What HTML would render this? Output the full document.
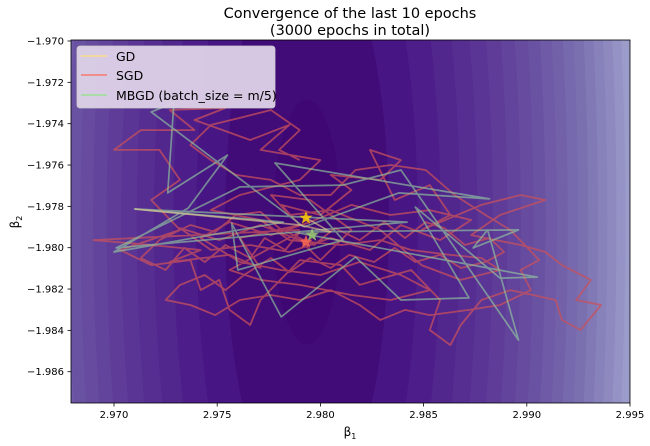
<!DOCTYPE html>
<html><head><meta charset="utf-8"><style>
html,body{margin:0;background:#fff;width:650px;height:446px;overflow:hidden;font-family:"Liberation Sans","DejaVu Sans",sans-serif}
svg{display:block}
svg text{font-family:"DejaVu Sans","Liberation Sans",sans-serif}
</style></head><body>
<svg id="chart" width="650" height="446" xmlns="http://www.w3.org/2000/svg">
<defs><clipPath id="pc"><rect x="71" y="40" width="559" height="363"/></clipPath></defs>
<text x="350" y="18" font-size="14.5" text-anchor="middle" fill="#000">Convergence of the last 10 epochs</text>
<text x="350" y="35" font-size="14.5" text-anchor="middle" fill="#000">(3000 epochs in total)</text>
<g id="bg" clip-path="url(#pc)"></g>
<g id="series" clip-path="url(#pc)"></g>
<rect x="71" y="40" width="559" height="363" fill="none" stroke="#000" stroke-width="0.8"/>
<g id="axes"></g>
<text x="350" y="436" font-size="12" text-anchor="middle">β<tspan font-size="8" dy="3">1</tspan></text>
<text transform="translate(19,222) rotate(-90)" font-size="12" text-anchor="middle">β<tspan font-size="8" dy="3">2</tspan></text>
<g>
<rect x="77" y="46" width="198" height="62" rx="3" fill="#ded2e8" fill-opacity="0.95" stroke="#ccc" stroke-width="0.8"/>
<line x1="81" y1="56" x2="107" y2="56" stroke="#efd9a0" stroke-width="2"/>
<text x="116" y="61" font-size="12.5">GD</text>
<line x1="81" y1="75" x2="107" y2="75" stroke="#f08d8d" stroke-width="2"/>
<text x="116" y="80" font-size="12.5">SGD</text>
<line x1="81" y1="95" x2="107" y2="95" stroke="#a9dca9" stroke-width="2"/>
<text x="116" y="100" font-size="12.5">MBGD (batch_size = m/5)</text>
</g>
</svg>
<script>
const xTicks=[2.970,2.975,2.980,2.985,2.990,2.995];
const yTicks=[-1.970,-1.972,-1.974,-1.976,-1.978,-1.980,-1.982,-1.984,-1.986];
const sgdB1=[2.9790,2.9690,2.9718,2.9742,2.9727,2.9756,2.9771,2.9761,2.9790,2.9781,2.9800,2.9815,2.9805,2.9829,2.9839,2.9824,2.9836,2.9853,2.9863,2.9849,2.9878,2.9897,2.9909,2.9887,2.9873,2.9897,2.9909,2.9917,2.9931,2.9924,2.9936,2.9926,2.9917,2.9914,2.9892,2.9878,2.9868,2.9863,2.9853,2.9858,2.9844,2.9819,2.9810,2.9790,2.9771,2.9766,2.9756,2.9751,2.9742,2.9737,2.9718,2.9703,2.9732,2.9718,2.9732,2.9722,2.9700,2.9713,2.9739,2.9727,2.9754,2.9739,2.9766,2.9785,2.9771,2.9800,2.9790,2.9761,2.9747,2.9771,2.9785,2.9810,2.9829,2.9844,2.9863,2.9878,2.9887,2.9868,2.9849,2.9829,2.9805,2.9785,2.9776,2.9795,2.9815,2.9800,2.9790,2.9771,2.9751,2.9732,2.9747,2.9766,2.9785,2.9805,2.9824,2.9839,2.9858,2.9873,2.9853,2.9834,2.9815,2.9795,2.9776,2.9756,2.9742,2.9761,2.9781,2.9800,2.9819,2.9839,2.9853,2.9834,2.9815,2.9790,2.9771,2.9756,2.9790,
2.9783,2.9773,2.9766,2.9754,2.9744,2.9734,2.9725,2.9713,2.9722,2.9737,2.9749,2.9759,2.9771,2.9780,2.9797,2.9807,2.9819,2.9831,2.9841,2.9851,2.9860,2.9870,2.9882,2.9889,2.9880,2.9868,2.9858,2.9846,2.9836,2.9826,2.9814,2.9805,2.9795,2.9785,2.9776,2.9763,2.9754,2.9744,2.9732,2.9725,
2.9737,2.9749,2.9761,2.9776,2.9790,2.9805,2.9819,2.9829,2.9841,2.9853,2.9872,2.9887,2.9902,2.9897,2.9906,2.9892,2.9880,2.9865,2.9851,2.9834,2.9817,2.9805,2.9790,2.9776,2.9759,2.9747,2.9737,2.9747,2.9761,2.9776,2.9790,2.9780,2.9790];
const sgdB2=[-1.97914,-1.97963,-1.97987,-1.98011,-1.98069,-1.98035,-1.98098,-1.97953,-1.97890,-1.97793,-1.97842,-1.97721,-1.97648,-1.97672,-1.97576,-1.97527,-1.97769,-1.97697,-1.97842,-1.97914,-1.97793,-1.97745,-1.97769,-1.97842,-1.97939,-1.97987,-1.98021,-1.98084,-1.98156,-1.98253,-1.98277,-1.98398,-1.98350,-1.98253,-1.98205,-1.98253,-1.98374,-1.98471,-1.98398,-1.98253,-1.98108,-1.98180,-1.98084,-1.98060,-1.98253,-1.98374,-1.98301,-1.98156,-1.98205,-1.98060,-1.98084,-1.98011,-1.97914,-1.97769,-1.97672,-1.97527,-1.97527,-1.97431,-1.97431,-1.97334,-1.97324,-1.97382,-1.97479,-1.97406,-1.97527,-1.97576,-1.97672,-1.97745,-1.97818,-1.97866,-1.97963,-1.97987,-1.97963,-1.98011,-1.98035,-1.98050,-1.98108,-1.98156,-1.98084,-1.97914,-1.97818,-1.97842,-1.97745,-1.97769,-1.97914,-1.98060,-1.97963,-1.97890,-1.97963,-1.97905,-1.98011,-1.97987,-1.98021,-1.97953,-1.98011,-1.97890,-1.97963,-1.97866,-1.97818,-1.97842,-1.97793,-1.97876,-1.97939,-1.97876,-1.97953,-1.98069,-1.98108,-1.98132,-1.98069,-1.98132,-1.98205,-1.98253,-1.98229,-1.98180,-1.98156,-1.98108,-1.97924,
-1.98011,-1.97953,-1.98050,-1.97987,-1.98069,-1.98001,-1.98108,-1.98050,-1.97963,-1.97890,-1.97924,-1.97842,-1.97827,-1.97905,-1.97987,-1.97905,-1.97963,-1.97876,-1.97953,-1.97876,-1.97905,-1.97987,-1.97953,-1.98021,-1.98069,-1.98098,-1.98035,-1.98069,-1.98001,-1.98069,-1.98035,-1.98098,-1.98050,-1.98118,-1.98050,-1.98132,-1.98205,-1.98132,-1.98180,-1.98253,
-1.98277,-1.98326,-1.98253,-1.98229,-1.98253,-1.98205,-1.98277,-1.98350,-1.98301,-1.98326,-1.98301,-1.98277,-1.98205,-1.98108,-1.98060,-1.97914,-1.97842,-1.97745,-1.97624,-1.97600,-1.97624,-1.97745,-1.97745,-1.97672,-1.97648,-1.97576,-1.97503,-1.97406,-1.97372,-1.97334,-1.97431,-1.97527,-1.97576];
const mbB1=[2.9792,2.9718,2.9729,2.9726,2.9755,2.9736,2.9700,2.9782,2.9710,2.9842,2.9701,2.9761,2.9811,2.9839,2.9896,2.9881,2.9874,2.9896,2.9787,2.9905,2.9887,2.9846,2.9872,2.9839,2.9817,2.9781,2.9757,2.9760,2.9811,2.9778,2.9882,2.9838,2.9792];
const mbB2=[-1.97900,-1.97343,-1.97300,-1.97735,-1.97552,-1.97808,-1.98021,-1.97876,-1.97813,-1.97876,-1.98001,-1.97706,-1.97697,-1.97624,-1.98447,-1.97914,-1.98001,-1.97914,-1.97924,-1.98142,-1.98147,-1.97803,-1.98243,-1.98253,-1.98045,-1.98335,-1.97881,-1.98108,-1.97963,-1.97590,-1.97764,-1.97735,-1.97900];
const gdB1=[2.9710,2.9790,2.9805,2.9793];
const gdB2=[-1.97813,-1.97890,-1.97924,-1.97856];
const starNames=['gd-final-star','sgd-final-star','mbgd-final-star'];
const starB1=[2.9793,2.9793,2.9796];
const starB2=[-1.97856,-1.97972,-1.97939];
const starColors=['#ffcc00','#ff6a50','#9ccc70'];

const X=v=>114+(v-2.970)/0.005*103.2;
const Y=v=>41+(-1.970-v)/0.002*41.34;
const NS='http://www.w3.org/2000/svg';
function mk(tag,parent,attrs){const e=document.createElementNS(NS,tag);for(const k in attrs)e.setAttribute(k,attrs[k]);parent.appendChild(e);return e;}

const bg=document.getElementById('bg');
const stops=[[0,[62,7,115]],[1,[65,11,120]],[2,[72,22,132]],[5,[86,46,146]],[10,[106,82,162]],[14,[122,112,176]],[19,[156,156,203]],[22,[170,172,212]]];
function col(k){for(let i=0;i<stops.length-1;i++){const a=stops[i],b=stops[i+1];if(k<=b[0]){const t=(k-a[0])/(b[0]-a[0]);const c=a[1].map((v,j)=>Math.round(v+(b[1][j]-v)*t));return `rgb(${c})`;}}return 'rgb(170,172,212)';}
const bgr=mk('rect',bg,{x:71,y:40,width:559,height:363,fill:col(22)});


const cx=307,cy=222;
for(let k=21;k>=0;k--){
  const rx=Math.sqrt(1156+5568*k);
  const el=mk('ellipse',bg,{cx:cx,cy:cy,rx:rx,ry:rx*3.6,fill:col(k)});
  
  
}

const ax=document.getElementById('axes');
xTicks.forEach(v=>{
  const x=X(v);
  const t=mk('line',ax,{x1:x,y1:403,x2:x,y2:406.5,stroke:'#000','stroke-width':0.8});
  
  
  const l=mk('text',ax,{x:x,y:418,'font-size':10,'text-anchor':'middle'});
  l.textContent=v.toFixed(3);
  
  
});
yTicks.forEach(v=>{
  const y=Y(v);
  const t=mk('line',ax,{x1:67.5,y1:y,x2:71,y2:y,stroke:'#000','stroke-width':0.8});
  
  
  const l=mk('text',ax,{x:64,y:y+3.5,'font-size':10,'text-anchor':'end'});
  l.textContent=v.toFixed(3).replace('-','\u2212');
  
  
});

const sg=document.getElementById('series');
function pts(a,b){return a.map((v,i)=>X(v).toFixed(1)+','+Y(b[i]).toFixed(1)).join(' ');}
const sgd=mk('polyline',sg,{points:pts(sgdB1,sgdB2),fill:'none',stroke:'#c8505c','stroke-opacity':0.75,'stroke-width':1.8,'stroke-linejoin':'round'});


const mb=mk('polyline',sg,{points:pts(mbB1,mbB2),fill:'none',stroke:'#90c8a0','stroke-opacity':0.65,'stroke-width':1.7,'stroke-linejoin':'round'});


const gd=mk('polyline',sg,{points:pts(gdB1,gdB2),fill:'none',stroke:'#e8d090','stroke-opacity':0.6,'stroke-width':1.7});


function star(x,y,r){let p=[];for(let i=0;i<10;i++){const a=-Math.PI/2+i*Math.PI/5;const rr=i%2?r*0.42:r;p.push((x+rr*Math.cos(a)).toFixed(1)+','+(y+rr*Math.sin(a)).toFixed(1));}return p.join(' ');}
starB1.forEach((v,i)=>{
  const s=mk('polygon',sg,{points:star(X(v),Y(starB2[i]),7),fill:starColors[i],'fill-opacity':0.85});
  
  
});
</script>
</body></html>
